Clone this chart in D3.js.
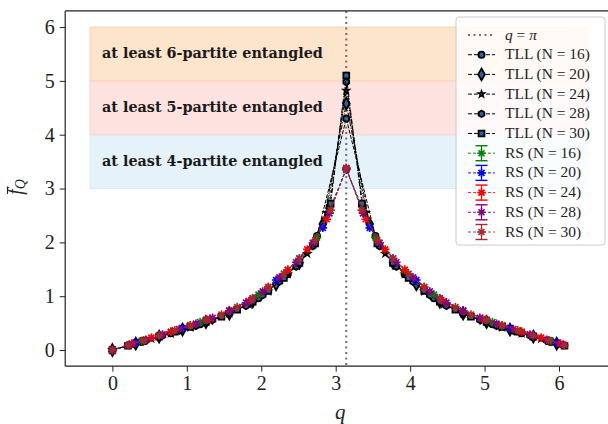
<!DOCTYPE html>
<html><head><meta charset="utf-8">
<script src="https://cdn.jsdelivr.net/npm/d3@7"></script>
<style>body{margin:0;background:#fff} svg{display:block}</style>
</head><body>
<svg id="c" width="608" height="424"></svg>
<script>
// ---------------- data ----------------
const q16 = [0, 0.393, 0.785, 1.178, 1.571, 1.963, 2.356, 2.749, 3.142, 3.534, 3.927, 4.320, 4.712, 5.105, 5.498, 5.890];
const q20 = [0, 0.314, 0.628, 0.942, 1.257, 1.571, 1.885, 2.199, 2.513, 2.827, 3.142, 3.456, 3.770, 4.084, 4.398, 4.712, 5.027, 5.341, 5.655, 5.969];
const q24 = [0, 0.262, 0.524, 0.785, 1.047, 1.309, 1.571, 1.833, 2.094, 2.356, 2.618, 2.880, 3.142, 3.403, 3.665, 3.927, 4.189, 4.451, 4.712, 4.974, 5.236, 5.498, 5.760, 6.021];
const q28 = [0, 0.224, 0.449, 0.673, 0.898, 1.122, 1.346, 1.571, 1.795, 2.020, 2.244, 2.468, 2.693, 2.917, 3.142, 3.366, 3.590, 3.815, 4.039, 4.264, 4.488, 4.712, 4.937, 5.161, 5.386, 5.610, 5.834, 6.059];
const q30 = [0, 0.209, 0.419, 0.628, 0.838, 1.047, 1.257, 1.466, 1.676, 1.885, 2.094, 2.304, 2.513, 2.723, 2.932, 3.142, 3.351, 3.560, 3.770, 3.979, 4.189, 4.398, 4.608, 4.817, 5.027, 5.236, 5.445, 5.655, 5.864, 6.074];

const tll16 = [0, 0.15, 0.31, 0.48, 0.68, 0.96, 1.41, 2.12, 4.30, 2.12, 1.41, 0.96, 0.68, 0.48, 0.31, 0.15];
const tll20 = [0, 0.12, 0.25, 0.38, 0.52, 0.68, 0.90, 1.22, 1.62, 2.34, 4.58, 2.34, 1.62, 1.22, 0.90, 0.68, 0.52, 0.38, 0.25, 0.12];
const tll24 = [0, 0.10, 0.21, 0.31, 0.42, 0.54, 0.68, 0.85, 1.09, 1.41, 1.79, 2.55, 4.82, 2.55, 1.79, 1.41, 1.09, 0.85, 0.68, 0.54, 0.42, 0.31, 0.21, 0.10];
const tll28 = [0, 0.09, 0.18, 0.27, 0.36, 0.45, 0.56, 0.68, 0.82, 1.02, 1.27, 1.55, 1.93, 2.66, 4.98, 2.66, 1.93, 1.55, 1.27, 1.02, 0.82, 0.68, 0.56, 0.45, 0.36, 0.27, 0.18, 0.09];
const tll30 = [0, 0.08, 0.17, 0.25, 0.34, 0.43, 0.52, 0.62, 0.75, 0.90, 1.10, 1.34, 1.62, 1.98, 2.72, 5.10, 2.72, 1.98, 1.62, 1.34, 1.10, 0.90, 0.75, 0.62, 0.52, 0.43, 0.34, 0.25, 0.17, 0.08];

const rs16 = [0, 0.17, 0.34, 0.52, 0.73, 1.03, 1.49, 2.09, 3.35, 2.09, 1.49, 1.03, 0.73, 0.52, 0.34, 0.17];
const rs20 = [0, 0.14, 0.27, 0.41, 0.56, 0.73, 0.96, 1.30, 1.70, 2.27, 3.36, 2.27, 1.70, 1.30, 0.96, 0.73, 0.56, 0.41, 0.27, 0.14];
const rs24 = [0, 0.12, 0.23, 0.34, 0.46, 0.58, 0.73, 0.91, 1.17, 1.49, 1.87, 2.43, 3.37, 2.43, 1.87, 1.49, 1.17, 0.91, 0.73, 0.58, 0.46, 0.34, 0.23, 0.12];
const rs28 = [0, 0.10, 0.19, 0.29, 0.39, 0.49, 0.60, 0.73, 0.88, 1.09, 1.35, 1.63, 1.99, 2.54, 3.38, 2.54, 1.99, 1.63, 1.35, 1.09, 0.88, 0.73, 0.60, 0.49, 0.39, 0.29, 0.19, 0.10];
const rs30 = [0, 0.09, 0.18, 0.27, 0.37, 0.46, 0.56, 0.66, 0.80, 0.96, 1.17, 1.42, 1.70, 2.04, 2.60, 3.38, 2.60, 2.04, 1.70, 1.42, 1.17, 0.96, 0.80, 0.66, 0.56, 0.46, 0.37, 0.27, 0.18, 0.09];

const xTicks = [0, 1, 2, 3, 4, 5, 6];
const yTicks = [0, 1, 2, 3, 4, 5, 6];
const bandLabels = ["at least 4-partite entangled", "at least 5-partite entangled", "at least 6-partite entangled"];
const bandLow = [3, 4, 5];
const bandHigh = [4, 5, 6];
const bandXRange = [-0.3, 6.39];
const sizes = [16, 20, 24, 28, 30];
const rsColors = ["green", "blue", "red", "purple", "brown"];

// ---------------- setup ----------------
const svg = d3.select("#c");
const serif = "'Liberation Serif', 'DejaVu Serif', serif";
const x = d3.scaleLinear().domain([-0.634, 6.72]).range([65.2, 612.6]);
const y = d3.scaleLinear().domain([-0.3, 6.3]).range([366.2, 10.9]);

svg.append("rect").attr("width", 608).attr("height", 424).attr("fill", "#fff");

// bands
const bandFill = ["#e5f2f9", "#fde3e0", "#fde4cc"];
const bandEdge = ["#d9ebf5", "#f9d3cf", "#fbd3b3"];
const bands = svg.append("g");
bandLow.forEach((lo, i) => {
  bands.append("rect")
    .attr("x", x(bandXRange[0])).attr("width", x(bandXRange[1]) - x(bandXRange[0]))
    .attr("y", y(bandHigh[i])).attr("height", y(lo) - y(bandHigh[i]))
    .attr("fill", bandFill[i]).attr("stroke", bandEdge[i]).attr("stroke-width", 1);
});
bandLow.forEach((lo, i) => {
  const t = bands.append("text")
    .attr("x", 102).attr("y", y((lo + bandHigh[i]) / 2) + 4.5)
    .attr("font-family", "'DejaVu Serif', serif").attr("font-weight", "bold").attr("font-size", 13)
    .attr("fill", "#1a1a1a").text(bandLabels[i]);
  const w = t.node().getComputedTextLength();
  t.attr("font-size", 13 * 221 / w);
});

// q = pi line
svg.append("line").attr("x1", x(Math.PI)).attr("x2", x(Math.PI))
  .attr("y1", 10.9).attr("y2", 366.2)
  .attr("stroke", "#707070").attr("stroke-width", 2).attr("stroke-dasharray", "2,3.5");

// symbols
const hexagon = {draw(ctx, size) {
  const r = Math.sqrt(size / (1.5 * Math.sqrt(3)));
  for (let i = 0; i < 6; i++) {
    const a = -Math.PI / 2 + i * Math.PI / 3;
    if (i === 0) ctx.moveTo(r * Math.cos(a), r * Math.sin(a)); else ctx.lineTo(r * Math.cos(a), r * Math.sin(a));
  }
  ctx.closePath();
}};
const asterisk = {draw(ctx, size) {
  const r = Math.sqrt(size) / 2;
  [0, 45, 90, 135].forEach(deg => {
    const a = deg * Math.PI / 180;
    ctx.moveTo(-r * Math.cos(a), -r * Math.sin(a));
    ctx.lineTo(r * Math.cos(a), r * Math.sin(a));
  });
}};
const tllMarkers = [
  {type: d3.symbolCircle, size: 30, sw: 1.8},
  {type: d3.symbolDiamond, size: 40, sw: 1.8},
  {type: d3.symbolStar, size: 13, sw: 1.4},
  {type: hexagon, size: 28, sw: 1.8},
  {type: d3.symbolSquare, size: 34, sw: 1.8}
];
const tllDash = ["4,1.5", "5,1.5,1,1.5", "3,1.5,1,1.5", "4,2", "5,1.5,1,1.5"];
const tllQ = [q16, q20, q24, q28, q30];
const tllF = [tll16, tll20, tll24, tll28, tll30];
const rsF = [rs16, rs20, rs24, rs28, rs30];
const markerFill = "#2a64a0";

const line = d3.line().x(d => x(d[0])).y(d => y(d[1]));

// TLL series
sizes.forEach((N, i) => {
  const pts = tllQ[i].map((q, k) => [q, tllF[i][k]]);
  const g = svg.append("g");
  g.append("path").attr("d", line(pts)).attr("fill", "none")
    .attr("stroke", "#000").attr("stroke-width", 1).attr("stroke-dasharray", tllDash[i]);
  g.selectAll("path.m").data(pts).join("path").attr("class", "m")
    .attr("transform", d => `translate(${x(d[0])},${y(d[1])})`)
    .attr("d", d3.symbol().type(tllMarkers[i].type).size(tllMarkers[i].size))
    .attr("fill", markerFill).attr("stroke", "#000").attr("stroke-width", tllMarkers[i].sw);
});
// RS series
sizes.forEach((N, i) => {
  const pts = tllQ[i].map((q, k) => [q, rsF[i][k]]);
  const g = svg.append("g");
  g.append("path").attr("d", line(pts)).attr("fill", "none")
    .attr("stroke", rsColors[i]).attr("stroke-width", 0.9).attr("stroke-dasharray", "3,2");
  g.selectAll("path.m").data(pts).join("path").attr("class", "m")
    .attr("transform", d => `translate(${x(d[0])},${y(d[1])})`)
    .attr("d", d3.symbol().type(asterisk).size(72))
    .attr("fill", "none").attr("stroke", rsColors[i]).attr("stroke-width", 1.6);
});

// axes
const xAxis = svg.append("g").attr("transform", "translate(0,366.2)")
  .call(d3.axisBottom(x).tickValues(xTicks).tickFormat(d3.format("d")).tickSize(5.5).tickPadding(4));
const yAxis = svg.append("g").attr("transform", "translate(65.2,0)")
  .call(d3.axisLeft(y).tickValues(yTicks).tickFormat(d3.format("d")).tickSize(5.5).tickPadding(5));
[xAxis, yAxis].forEach(a => {
  a.select(".domain").remove();
  a.selectAll(".tick line").attr("stroke", "#222").attr("stroke-width", 1);
  a.selectAll(".tick text").attr("font-family", serif).attr("font-size", 20).attr("fill", "#222");
});
// spines
svg.append("line").attr("x1", 65.2).attr("x2", 65.2).attr("y1", 10.9).attr("y2", 366.2).attr("stroke", "#222").attr("stroke-width", 1.2);
svg.append("line").attr("x1", 65.2).attr("x2", 612).attr("y1", 366.2).attr("y2", 366.2).attr("stroke", "#222").attr("stroke-width", 1.2);
svg.append("line").attr("x1", 65.2).attr("x2", 612).attr("y1", 10.9).attr("y2", 10.9).attr("stroke", "#222").attr("stroke-width", 1.2);

// axis labels
svg.append("text").attr("x", x(Math.PI) - 6).attr("y", 419).attr("text-anchor", "middle")
  .attr("font-family", serif).attr("font-style", "italic").attr("font-size", 21).attr("fill", "#222").text("q");
const yl = svg.append("g").attr("transform", "translate(22,187) rotate(-90)");
const ylt = yl.append("text").attr("x", 0).attr("y", 0).attr("text-anchor", "middle")
  .attr("font-family", serif).attr("font-size", 20).attr("fill", "#222");
ylt.append("tspan").attr("font-style", "italic").text("f");
ylt.append("tspan").attr("font-style", "italic").attr("font-size", 14).attr("dy", 3).text("Q");
yl.append("line").attr("x1", -7).attr("x2", 0.5).attr("y1", -14.5).attr("y2", -14.5).attr("stroke", "#222").attr("stroke-width", 1.1);

// legend
const leg = svg.append("g");
leg.append("rect").attr("x", 456).attr("y", 17).attr("width", 149).attr("height", 228).attr("rx", 3)
  .attr("fill", "#fff").attr("fill-opacity", 0.8).attr("stroke", "#cccccc").attr("stroke-width", 1);
const legY0 = 35, legDy = 19.7, hx0 = 468, hx1 = 495, hxm = 481.5, tx = 505;
const legFont = 13;
// q = pi entry
leg.append("line").attr("x1", hx0).attr("x2", hx1).attr("y1", legY0).attr("y2", legY0)
  .attr("stroke", "#707070").attr("stroke-width", 2).attr("stroke-dasharray", "2,3.5");
const lt0 = leg.append("text").attr("x", tx).attr("y", legY0 + 4.5).attr("font-family", serif).attr("font-size", legFont).attr("fill", "#222");
lt0.append("tspan").attr("font-style", "italic").text("q");
lt0.append("tspan").text(" = ");
lt0.append("tspan").attr("font-style", "italic").text("π");
const texts = [];
sizes.forEach((N, i) => {
  const yy = legY0 + legDy * (i + 1);
  leg.append("line").attr("x1", hx0).attr("x2", hx1).attr("y1", yy).attr("y2", yy)
    .attr("stroke", "#000").attr("stroke-width", 1).attr("stroke-dasharray", "4,2");
  leg.append("path").attr("transform", `translate(${hxm},${yy})`)
    .attr("d", d3.symbol().type(tllMarkers[i].type).size(tllMarkers[i].size))
    .attr("fill", markerFill).attr("stroke", "#000").attr("stroke-width", tllMarkers[i].sw);
  texts.push(leg.append("text").attr("x", tx).attr("y", yy + 4.5).attr("font-family", serif)
    .attr("font-size", legFont).attr("fill", "#222").text(`TLL (N = ${N})`));
});
sizes.forEach((N, i) => {
  const yy = legY0 + legDy * (i + 6);
  const c = rsColors[i];
  leg.append("line").attr("x1", hx0).attr("x2", hx1).attr("y1", yy).attr("y2", yy)
    .attr("stroke", c).attr("stroke-width", 0.9).attr("stroke-dasharray", "3,2");
  leg.append("line").attr("x1", hxm).attr("x2", hxm).attr("y1", yy - 7.5).attr("y2", yy + 7.5).attr("stroke", c).attr("stroke-width", 1.2);
  leg.append("line").attr("x1", hxm - 6).attr("x2", hxm + 6).attr("y1", yy - 7.5).attr("y2", yy - 7.5).attr("stroke", c).attr("stroke-width", 1.4);
  leg.append("line").attr("x1", hxm - 6).attr("x2", hxm + 6).attr("y1", yy + 7.5).attr("y2", yy + 7.5).attr("stroke", c).attr("stroke-width", 1.4);
  leg.append("path").attr("transform", `translate(${hxm},${yy})`)
    .attr("d", d3.symbol().type(asterisk).size(72))
    .attr("fill", "none").attr("stroke", c).attr("stroke-width", 1.6);
  texts.push(leg.append("text").attr("x", tx).attr("y", yy + 4.5).attr("font-family", serif)
    .attr("font-size", legFont).attr("fill", "#222").text(`RS (N = ${N})`));
});
const w0 = texts[0].node().getComputedTextLength();
const fs = legFont * 85 / w0;
texts.forEach(t => t.attr("font-size", fs));
lt0.attr("font-size", fs);
</script>
</body></html>
